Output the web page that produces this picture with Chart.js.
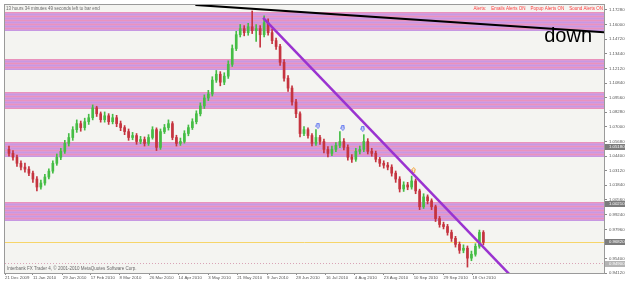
<!DOCTYPE html>
<html>
<head>
<meta charset="utf-8">
<title>EURUSD Daily</title>
<script src="https://cdn.jsdelivr.net/npm/chart.js@4.4.1/dist/chart.umd.min.js"></script>
<style>
  html, body { margin: 0; padding: 0; background: #ffffff; }
  canvas { display: block; }
</style>
</head>
<body>
<canvas id="priceChart" width="625" height="282"></canvas>
<script>
// ==========================================
// DATA (candles ~2 trading days each)
// ==========================================
const firstOpen = 1.0500;
const closes = [
  1.0465, 1.0431, 1.0378, 1.0344, 1.0326, 1.0291, 1.0239, 1.0169, 1.0204, 1.0257,
  1.0309, 1.0378, 1.0431, 1.0483, 1.0553, 1.0605, 1.0674, 1.0727, 1.0692, 1.0744,
  1.0779, 1.0866, 1.0814, 1.0762, 1.0796, 1.0744, 1.0779, 1.0727, 1.0692, 1.0657,
  1.0605, 1.0622, 1.0570, 1.0587, 1.0553, 1.0605, 1.0674, 1.0518, 1.0657, 1.0692,
  1.0727, 1.0605, 1.0553, 1.0570, 1.0640, 1.0692, 1.0744, 1.0814, 1.0883, 1.0953,
  1.0988, 1.1110, 1.1162, 1.1092, 1.1145, 1.1249, 1.1388, 1.1510, 1.1563, 1.1528,
  1.1580, 1.1545, 1.1563, 1.1510, 1.1615, 1.1528, 1.1458, 1.1406, 1.1267, 1.1127,
  1.1040, 1.0918, 1.0814, 1.0640, 1.0674, 1.0622, 1.0553, 1.0605, 1.0570, 1.0500,
  1.0465, 1.0500, 1.0535, 1.0570, 1.0518, 1.0431, 1.0413, 1.0483, 1.0500, 1.0570,
  1.0483, 1.0465, 1.0413, 1.0378, 1.0361, 1.0344, 1.0291, 1.0239, 1.0152, 1.0187,
  1.0169, 1.0222, 1.0135, 0.9995, 1.0082, 1.0048, 0.9995, 0.9891, 0.9839, 0.9821,
  0.9769, 0.9717, 0.9664, 0.9612, 0.9630, 0.9543, 0.9577, 0.9647, 0.9769, 0.9682
];
const highs = [
  1.0530, 1.0490, 1.0450, 1.0400, 1.0380, 1.0350, 1.0310, 1.0260, 1.0230, 1.0280,
  1.0330, 1.0400, 1.0460, 1.0510, 1.0580, 1.0640, 1.0700, 1.0760, 1.0750, 1.0775,
  1.0810, 1.0892, 1.0880, 1.0830, 1.0830, 1.0815, 1.0810, 1.0800, 1.0750, 1.0710,
  1.0680, 1.0650, 1.0640, 1.0615, 1.0610, 1.0630, 1.0700, 1.0690, 1.0680, 1.0720,
  1.0760, 1.0745, 1.0625, 1.0600, 1.0665, 1.0715, 1.0770, 1.0840, 1.0910, 1.0980,
  1.1020, 1.1140, 1.1195, 1.1185, 1.1175, 1.1280, 1.1420, 1.1540, 1.1600, 1.1590,
  1.1610, 1.1719, 1.1600, 1.1590, 1.1676, 1.1650, 1.1560, 1.1480, 1.1425, 1.1290,
  1.1150, 1.1060, 1.0940, 1.0830, 1.0700, 1.0690, 1.0640, 1.0674, 1.0625, 1.0590,
  1.0525, 1.0530, 1.0560, 1.0657, 1.0595, 1.0540, 1.0455, 1.0510, 1.0530, 1.0630,
  1.0595, 1.0510, 1.0485, 1.0430, 1.0400, 1.0385, 1.0365, 1.0310, 1.0260, 1.0215,
  1.0210, 1.0265, 1.0240, 1.0150, 1.0110, 1.0100, 1.0065, 1.0010, 0.9910, 0.9860,
  0.9840, 0.9790, 0.9735, 0.9685, 0.9660, 0.9650, 0.9605, 0.9670, 0.9790, 0.9785
];
const lows = [
  1.0440, 1.0405, 1.0350, 1.0320, 1.0300, 1.0270, 1.0210, 1.0135, 1.0150, 1.0185,
  1.0240, 1.0290, 1.0360, 1.0410, 1.0465, 1.0530, 1.0580, 1.0650, 1.0660, 1.0670,
  1.0720, 1.0760, 1.0790, 1.0740, 1.0740, 1.0720, 1.0725, 1.0700, 1.0665, 1.0630,
  1.0580, 1.0585, 1.0545, 1.0550, 1.0530, 1.0535, 1.0590, 1.0490, 1.0500, 1.0640,
  1.0670, 1.0585, 1.0530, 1.0535, 1.0555, 1.0620, 1.0675, 1.0725, 1.0795, 1.0860,
  1.0930, 1.0970, 1.1090, 1.1060, 1.1070, 1.1125, 1.1230, 1.1370, 1.1490, 1.1500,
  1.1505, 1.1520, 1.1450, 1.1400, 1.1490, 1.1505, 1.1430, 1.1380, 1.1240, 1.1100,
  1.1010, 1.0890, 1.0780, 1.0610, 1.0620, 1.0600, 1.0530, 1.0535, 1.0545, 1.0470,
  1.0435, 1.0445, 1.0480, 1.0515, 1.0495, 1.0405, 1.0385, 1.0395, 1.0460, 1.0480,
  1.0460, 1.0440, 1.0390, 1.0350, 1.0335, 1.0320, 1.0265, 1.0210, 1.0125, 1.0130,
  1.0145, 1.0150, 1.0110, 0.9970, 0.9980, 1.0020, 0.9970, 0.9865, 0.9815, 0.9800,
  0.9745, 0.9690, 0.9640, 0.9585, 0.9590, 0.9464, 0.9520, 0.9560, 0.9630, 0.9660
];

// axis labels
const dateLabels = ["21 Dec 2009", "11 Jan 2010", "29 Jan 2010", "17 Feb 2010", "8 Mar 2010",
  "26 Mar 2010", "14 Apr 2010", "3 May 2010", "21 May 2010", "9 Jun 2010", "28 Jun 2010",
  "16 Jul 2010", "4 Aug 2010", "23 Aug 2010", "10 Sep 2010", "29 Sep 2010", "18 Oct 2010"];
const dateTicks = [-1, 6, 13.5, 20.5, 27.75, 35.25, 42.5, 50, 57.25, 64.75, 72, 79.5, 86.75, 94, 101.5, 109, 116.25];
const priceTicks = [1.1728, 1.1600, 1.1472, 1.1344, 1.1212, 1.1084, 1.0956, 1.0828, 1.0700, 1.0568,
  1.0440, 1.0312, 1.0184, 1.0056, 0.9924, 0.9796, 0.9668, 0.9540, 0.9412];

// supply / demand zones
const zoneTops = [1.1711, 1.1293, 1.1005, 1.0561, 1.0039];
const zoneBottoms = [1.1545, 1.1197, 1.0857, 1.0431, 0.9873];

// drawn objects
const downTrend = [{ x: 46.75, y: 1.1772 }, { x: 149.25, y: 1.1532 }];
const channelLine = [{ x: 63.75, y: 1.1658 }, { x: 127, y: 0.9347 }];
const fractalsBlue = [{ x: 77.5, y: 1.0709 }, { x: 83.75, y: 1.0691 }, { x: 88.75, y: 1.0683 }];
const fractalsOrange = [{ x: 101.5, y: 1.0318 }];
const bidPrice = 0.9682;
const dottedLevel = 0.9499;
const axisMarkers = [1.0518, 1.0021, 0.9682, 0.9490];
const downLabel = { x: 134.25, y: 1.1449, text: "down" };

const opens = [firstOpen].concat(closes.slice(0, -1));
const candleColor = (i) => (closes[i] >= opens[i] ? "#45bd45" : "#c5343f");

// ==========================================
// little helpers (arrow icons)
// ==========================================
function arrowIcon(color, down) {
  const c = document.createElement("canvas");
  c.width = 5; c.height = 6;
  const g = c.getContext("2d");
  g.strokeStyle = color; g.lineWidth = 1;
  g.beginPath();
  if (down) {
    g.moveTo(1.5, 0.5); g.lineTo(3.5, 0.5); g.lineTo(3.5, 3); g.lineTo(4.5, 3);
    g.lineTo(2.5, 5.5); g.lineTo(0.5, 3); g.lineTo(1.5, 3);
  } else {
    g.moveTo(1.5, 5.5); g.lineTo(3.5, 5.5); g.lineTo(3.5, 3); g.lineTo(4.5, 3);
    g.lineTo(2.5, 0.5); g.lineTo(0.5, 3); g.lineTo(1.5, 3);
  }
  g.closePath();
  g.stroke();
  return c;
}

const tinyFont = "Liberation Sans";

// ==========================================
// TERMINAL LOOK (background, zones, lines, texts)
// ==========================================
const terminalPlugin = {
  id: "terminal",
  beforeDraw(chart) {
    const { ctx, chartArea: a } = chart;
    ctx.save();
    ctx.fillStyle = "#ffffff";
    ctx.fillRect(0, 0, chart.width, chart.height);
    ctx.fillStyle = "#f4f4f1";
    ctx.fillRect(a.left, a.top, a.right - a.left, a.bottom - a.top);
    ctx.restore();
  },
  beforeDatasetsDraw(chart) {
    const { ctx, chartArea: a, scales } = chart;
    const y = scales.y;
    ctx.save();
    zoneTops.forEach((top, i) => {
      const y1 = Math.round(y.getPixelForValue(top));
      const y2 = Math.round(y.getPixelForValue(zoneBottoms[i]));
      ctx.fillStyle = "#d99ad8";
      ctx.fillRect(a.left, y1, a.right - a.left, y2 - y1);
      // light dither, rows of pink / lilac specks
      for (let py = y1; py < y2; py += 2) {
        ctx.fillStyle = (py - y1) % 4 === 0 ? "rgba(246,140,165,0.55)" : "rgba(178,150,240,0.45)";
        ctx.fillRect(a.left, py, a.right - a.left, 1);
      }
    });
    // bid line
    ctx.strokeStyle = "#f6d56a";
    ctx.lineWidth = 1;
    const yb = Math.round(y.getPixelForValue(bidPrice)) + 0.5;
    ctx.beginPath(); ctx.moveTo(a.left, yb); ctx.lineTo(a.right, yb); ctx.stroke();
    // dotted level
    ctx.strokeStyle = "#d9a3b6";
    ctx.setLineDash([1, 2]);
    const yd = Math.round(y.getPixelForValue(dottedLevel)) + 0.5;
    ctx.beginPath(); ctx.moveTo(a.left, yd); ctx.lineTo(a.right, yd); ctx.stroke();
    ctx.restore();
  },
  afterDraw(chart) {
    const { ctx, chartArea: a, scales } = chart;
    ctx.save();
    // frame
    ctx.strokeStyle = "#9a9a9a";
    ctx.lineWidth = 1;
    ctx.strokeRect(a.left - 0.5, a.top - 0.5, a.right - a.left + 1, a.bottom - a.top + 1);

    // price tags on the axis
    ctx.font = "4.3px " + tinyFont;
    ctx.textBaseline = "middle";
    axisMarkers.forEach((v, i) => {
      const py = Math.round(scales.y.getPixelForValue(v));
      ctx.fillStyle = i === axisMarkers.length - 1 ? "#b4b4b4" : "#7c7c7c";
      ctx.fillRect(a.right + 1, py - 3, chart.width - a.right - 1, 6);
      ctx.fillStyle = "#ffffff";
      ctx.fillText(v.toFixed(5), a.right + 5, py);
    });

    // terminal texts
    ctx.font = "4.5px " + tinyFont;
    ctx.fillStyle = "#6a6a6a";
    ctx.textAlign = "left";
    ctx.fillText("13 hours 34 minutes 49 seconds left to bar end", a.left + 1, a.top + 4);
    ctx.fillText("Interbank FX Trader 4, \u00a9 2001-2010 MetaQuotes Software Corp.", a.left + 2, a.bottom - 4);
    ctx.fillStyle = "#ff3b3b";
    ctx.textAlign = "right";
    ctx.fillText("Alerts:    Emails Alerts ON    Popup Alerts ON    Sound Alerts ON", a.right - 1, a.top + 4);

    // "down" text object
    ctx.font = "20px " + tinyFont;
    ctx.fillStyle = "#000000";
    ctx.textAlign = "left";
    ctx.textBaseline = "alphabetic";
    ctx.fillText(downLabel.text, scales.x.getPixelForValue(downLabel.x), scales.y.getPixelForValue(downLabel.y));
    ctx.restore();
  }
};

// ==========================================
// CHART
// ==========================================
const ctxPrice = document.getElementById("priceChart");
new Chart(ctxPrice.getContext("2d"), {
  type: "bar",
  data: {
    datasets: [
      {
        type: "line",
        data: channelLine,
        borderColor: "#9a33d0",
        borderWidth: 2.5,
        pointRadius: 0,
        order: 0
      },
      {
        type: "line",
        data: downTrend,
        borderColor: "#000000",
        borderWidth: 2,
        pointRadius: 0,
        order: 0
      },
      {
        type: "line",
        data: fractalsBlue,
        showLine: false,
        pointStyle: arrowIcon("#4a63f0", true),
        pointRadius: 3,
        order: 1
      },
      {
        type: "line",
        data: fractalsOrange,
        showLine: false,
        pointStyle: arrowIcon("#f2a53a", false),
        pointRadius: 3,
        order: 1
      },
      {
        // bodies
        data: closes.map((c, i) => ({ x: i, y: [opens[i], c] })),
        backgroundColor: (c) => candleColor(c.dataIndex),
        barThickness: 2,
        minBarLength: 1,
        grouped: false,
        order: 2
      },
      {
        // wicks
        data: closes.map((c, i) => ({ x: i, y: [lows[i], highs[i]] })),
        backgroundColor: (c) => candleColor(c.dataIndex),
        barThickness: 1,
        grouped: false,
        order: 3
      }
    ]
  },
  options: {
    responsive: false,
    animation: false,
    devicePixelRatio: 1,
    layout: { padding: { left: 3, top: 2, right: 0, bottom: 0 } },
    plugins: {
      legend: { display: false },
      tooltip: { enabled: false }
    },
    scales: {
      x: {
        type: "linear",
        min: -1,
        max: 149.25,
        offset: false,
        border: { display: false },
        grid: { drawOnChartArea: false, drawTicks: true, tickLength: 2, color: "#8a8a8a", offset: false },
        ticks: {
          autoSkip: false,
          maxRotation: 0,
          minRotation: 0,
          align: "start",
          padding: 0,
          color: "#555555",
          font: { family: tinyFont, size: 4.3 },
          callback: (v, i) => dateLabels[i]
        },
        afterBuildTicks: (s) => { s.ticks = dateTicks.map((v) => ({ value: v })); },
        afterFit: (s) => { s.height = 9; s.paddingLeft = 0; s.paddingRight = 0; }
      },
      y: {
        type: "linear",
        position: "right",
        min: 0.9412,
        max: 1.17715,
        border: { display: false },
        grid: { drawOnChartArea: false, drawTicks: true, tickLength: 3, color: "#8a8a8a" },
        ticks: {
          padding: 2,
          color: "#555555",
          font: { family: tinyFont, size: 4.3 },
          callback: (v) => v.toFixed(5)
        },
        afterBuildTicks: (s) => { s.ticks = priceTicks.map((v) => ({ value: v })); },
        afterFit: (s) => { s.width = 21; s.paddingTop = 0; s.paddingBottom = 0; }
      }
    }
  },
  plugins: [terminalPlugin]
});
</script>
</body>
</html>
